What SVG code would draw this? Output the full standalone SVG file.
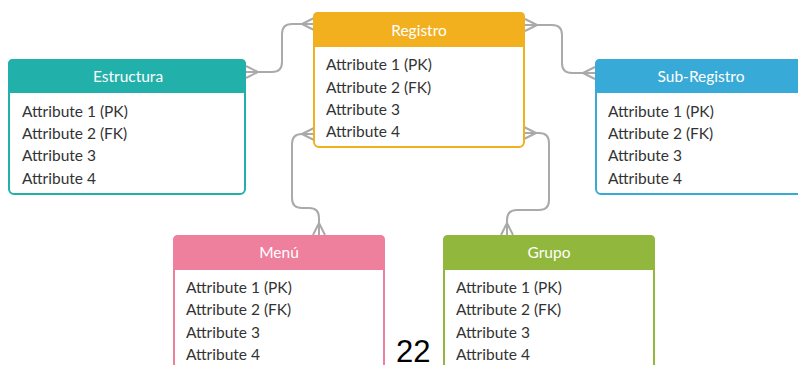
<svg xmlns="http://www.w3.org/2000/svg" width="798" height="365" viewBox="0 0 798 365">
<style>
.box{fill:#fff;stroke-width:2}
.hd{font-family:Lato,"Noto Sans",sans-serif;font-size:15.5px;fill:#fff;text-anchor:middle}
.at{font-family:Lato,"Noto Sans",sans-serif;font-size:15.5px;fill:#333}
.ln{fill:none;stroke:#aaaaaa;stroke-width:2}
.num{font-family:"Liberation Sans",Arial,sans-serif;font-size:31px;fill:#000}
</style>
<rect width="798" height="365" fill="#fff"/>
<g id="connectors">
<path class="ln" d="M246,72 H272 Q282,72 282,62 V34 Q282,24 292,24 H314"/>
<path class="ln" d="M258,72 L246,66 M258,72 L246,78"/>
<path class="ln" d="M302,24 L314,18 M302,24 L314,30"/>
<path class="ln" d="M525,25 H552 Q562,25 562,35 V63 Q562,73 572,73 H595"/>
<path class="ln" d="M537,25 L525,19 M537,25 L525,31"/>
<path class="ln" d="M583,73 L595,67 M583,73 L595,79"/>
<path class="ln" d="M314,134 H302 Q292,134 292,144 V198 Q292,208 302,208 H309 Q319,208 319,218 V235"/>
<path class="ln" d="M302,134 L314,128 M302,134 L314,140"/>
<path class="ln" d="M319,223 L313,235 M319,223 L325,235"/>
<path class="ln" d="M524,133 H539 Q549,133 549,143 V200 Q549,210 539,210 H517 Q507,210 507,220 V235"/>
<path class="ln" d="M536,133 L524,127 M536,133 L524,139"/>
<path class="ln" d="M507,223 L501,235 M507,223 L513,235"/>
</g>
<g id="estructura">
<rect class="box" x="9" y="60" width="236" height="134" rx="5" stroke="#22b0aa"/>
<path d="M8,93 V64 Q8,59 13,59 H241 Q246,59 246,64 V93 Z" fill="#22b0aa"/>
<text class="hd" x="128" y="82">Estructura</text>
<text class="at" x="22" y="117">Attribute 1 (PK)</text>
<text class="at" x="22" y="139">Attribute 2 (FK)</text>
<text class="at" x="22" y="161">Attribute 3</text>
<text class="at" x="22" y="184">Attribute 4</text>
</g>
<g id="registro">
<rect class="box" x="314" y="13" width="210" height="134" rx="5" stroke="#f2b01f"/>
<path d="M313,47 V17 Q313,12 318,12 H520 Q525,12 525,17 V47 Z" fill="#f2b01f"/>
<text class="hd" x="419" y="36">Registro</text>
<text class="at" x="326" y="70">Attribute 1 (PK)</text>
<text class="at" x="326" y="93">Attribute 2 (FK)</text>
<text class="at" x="326" y="115">Attribute 3</text>
<text class="at" x="326" y="137">Attribute 4</text>
</g>
<g id="sub-registro">
<rect class="box" x="596" y="60" width="210" height="134" rx="5" stroke="#38aad7"/>
<path d="M595,93 V64 Q595,59 600,59 H802 Q807,59 807,64 V93 Z" fill="#38aad7"/>
<text class="hd" x="701" y="82">Sub-Registro</text>
<text class="at" x="608" y="117">Attribute 1 (PK)</text>
<text class="at" x="608" y="139">Attribute 2 (FK)</text>
<text class="at" x="608" y="161">Attribute 3</text>
<text class="at" x="608" y="184">Attribute 4</text>
</g>
<g id="menu">
<rect class="box" x="174" y="236" width="210" height="150" rx="5" stroke="#ee809d"/>
<path d="M173,270 V240 Q173,235 178,235 H380 Q385,235 385,240 V270 Z" fill="#ee809d"/>
<text class="hd" x="279" y="258">Menú</text>
<text class="at" x="186" y="293">Attribute 1 (PK)</text>
<text class="at" x="186" y="315">Attribute 2 (FK)</text>
<text class="at" x="186" y="338">Attribute 3</text>
<text class="at" x="186" y="360">Attribute 4</text>
</g>
<g id="grupo">
<rect class="box" x="444" y="236" width="210" height="150" rx="5" stroke="#91b83d"/>
<path d="M443,270 V240 Q443,235 448,235 H650 Q655,235 655,240 V270 Z" fill="#91b83d"/>
<text class="hd" x="549" y="258">Grupo</text>
<text class="at" x="456" y="293">Attribute 1 (PK)</text>
<text class="at" x="456" y="315">Attribute 2 (FK)</text>
<text class="at" x="456" y="338">Attribute 3</text>
<text class="at" x="456" y="360">Attribute 4</text>
</g>
<text class="num" x="396" y="362">22</text>
</svg>
